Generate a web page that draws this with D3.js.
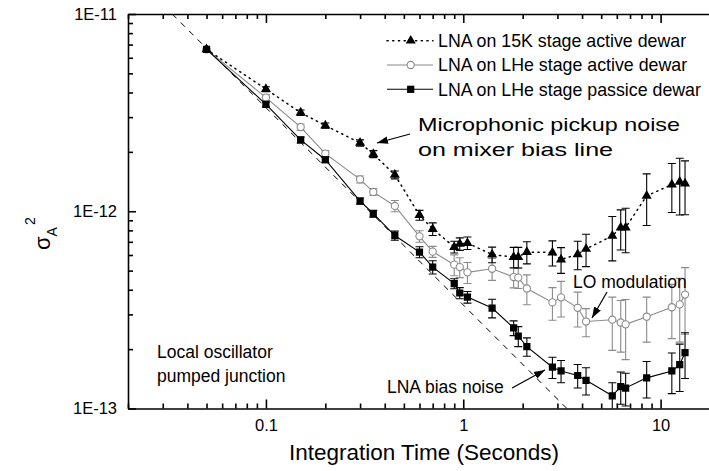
<!DOCTYPE html>
<html>
<head>
<meta charset="utf-8">
<script src="https://cdn.jsdelivr.net/npm/d3@7"></script>
<style>
  body { margin: 0; background: #fff; }
  svg { display: block; font-family: "Liberation Sans", Arial, sans-serif; }
  .axis path, .axis line { stroke: #000; stroke-width: 1.6; }
  .axis text { font-size: 16.5px; fill: #000; }
  .note { font-size: 17.5px; fill: #000; }
</style>
</head>
<body>
<svg width="709" height="471"></svg>
<script>
// integration times (s), shared by all three runs
const times = [0.05, 0.1, 0.15, 0.2, 0.3, 0.35, 0.45, 0.6, 0.7, 0.9, 0.96, 1.05, 1.4, 1.8, 1.9, 2.1, 2.83, 3.13, 3.8, 4.19, 5.69, 6.28, 6.65, 8.5, 11.4, 12.5, 13.3];

// Allan variance values, in units of 1E-12
const lna15K = [6.62, 4.16, 3.16, 2.72, 2.22, 1.95, 1.53, 0.955, 0.813, 0.659, 0.683, 0.690, 0.603, 0.586, 0.586, 0.621, 0.618, 0.569, 0.605, 0.644, 0.750, 0.826, 0.826, 1.197, 1.365, 1.408, 1.38];
const lna15KErr = [0, 0.12, 0.1, 0.08, 0.08, 0.08, 0.07, 0.055, 0.06, 0.045, 0.05, 0.05, 0.055, 0.07, 0.07, 0.08, 0.09, 0.085, 0.10, 0.12, 0.19, 0.19, 0.21, 0.35, 0.38, 0.45, 0.42];

const lheActive = [6.62, 3.77, 2.67, 1.96, 1.45, 1.253, 1.064, 0.746, 0.624, 0.536, 0.521, 0.490, 0.511, 0.464, 0.461, 0.406, 0.345, 0.366, 0.324, 0.276, 0.282, 0.273, 0.267, 0.292, 0.326, 0.337, 0.378];
const lheActiveErr = [0, 0.12, 0.1, 0.07, 0.06, 0.05, 0.07, 0.05, 0.04, 0.065, 0.06, 0.06, 0.065, 0.055, 0.055, 0.07, 0.065, 0.075, 0.065, 0.045, 0.085, 0.08, 0.09, 0.075, 0.1, 0.12, 0.14];

const lhePassive = [6.62, 3.48, 2.30, 1.824, 1.127, 0.972, 0.753, 0.621, 0.521, 0.430, 0.385, 0.367, 0.323, 0.256, 0.233, 0.206, 0.162, 0.155, 0.147, 0.139, 0.116, 0.129, 0.127, 0.143, 0.155, 0.167, 0.192];
const lhePassiveErr = [0, 0.1, 0.08, 0.06, 0.04, 0.04, 0.04, 0.04, 0.04, 0.025, 0.025, 0.025, 0.035, 0.022, 0.027, 0.022, 0.02, 0.02, 0.02, 0.022, 0.019, 0.024, 0.024, 0.03, 0.036, 0.045, 0.05];

const legendLabels = ["LNA on 15K stage active dewar", "LNA on LHe stage active dewar", "LNA on LHe stage passice dewar"];
const xTickLabels = ["0.1", "1", "10"];
const yTickLabels = ["1E-13", "1E-12", "1E-11"];

// white-noise reference line sigma^2 = C / tau
const whiteNoiseC = 3.35e-13;

const unit = 1e-12;
const plotLeft = 128, plotTop = 14, plotRight = 720, plotBottom = 408.5;

const svg = d3.select("svg");
const x = d3.scaleLog().domain([0.02, 20]).range([plotLeft, plotRight]);
const y = d3.scaleLog().domain([1e-13, 1e-11]).range([plotBottom, plotTop]);

const defs = svg.append("defs");
defs.append("clipPath").attr("id", "plotClip")
  .append("rect").attr("x", plotLeft).attr("y", plotTop)
  .attr("width", plotRight - plotLeft).attr("height", plotBottom - plotTop);

const marker = defs.append("marker")
  .attr("id", "arrow").attr("viewBox", "0 0 10 10").attr("refX", 10).attr("refY", 5)
  .attr("markerWidth", 11).attr("markerHeight", 11).attr("markerUnits", "userSpaceOnUse")
  .attr("orient", "auto");
marker.append("path").attr("d", "M0,1.5L10,5L0,8.5Z").attr("fill", "#000");

// ticks: majors at the decades, minors in between
const xMajor = [0.1, 1, 10];
const xMinor = x.ticks().filter(v => !xMajor.some(m => Math.abs(m - v) / m < 1e-9));
const yMajor = [1e-13, 1e-12, 1e-11];
const yMinor = y.ticks().filter(v => !yMajor.some(m => Math.abs(m - v) / m < 1e-9));

const xAxisG = svg.append("g").attr("class", "axis").attr("transform", `translate(0,${plotBottom})`);
xAxisG.call(d3.axisBottom(x).tickValues(xMajor).tickSizeInner(-9).tickSizeOuter(0).tickPadding(11)
  .tickFormat((d, i) => xTickLabels[i]));
xAxisG.append("g").call(d3.axisBottom(x).tickValues(xMinor).tickSizeInner(-5).tickSizeOuter(0).tickFormat(""))
  .select(".domain").remove();

const topAxisG = svg.append("g").attr("class", "axis").attr("transform", `translate(0,${plotTop})`);
topAxisG.call(d3.axisTop(x).tickValues(xMajor).tickSizeInner(-9).tickSizeOuter(0).tickFormat(""));
topAxisG.append("g").call(d3.axisTop(x).tickValues(xMinor).tickSizeInner(-5).tickSizeOuter(0).tickFormat(""))
  .select(".domain").remove();

const yAxisG = svg.append("g").attr("class", "axis").attr("transform", `translate(${plotLeft},0)`);
yAxisG.call(d3.axisLeft(y).tickValues(yMajor).tickSizeInner(-8).tickSizeOuter(0).tickPadding(11)
  .tickFormat((d, i) => yTickLabels[i]));
yAxisG.append("g").call(d3.axisLeft(y).tickValues(yMinor).tickSizeInner(-5).tickSizeOuter(0).tickFormat(""))
  .select(".domain").remove();

// axis titles
svg.append("text").attr("class", "note").style("font-size", "22.5px")
  .attr("x", (plotLeft + plotRight) / 2).attr("y", 460).attr("text-anchor", "middle")
  .text("Integration Time (Seconds)");

const yTitle = svg.append("text").attr("class", "note").style("font-size", "22px")
  .attr("transform", "translate(50,250) rotate(-90)");
yTitle.append("tspan").text("σ");
yTitle.append("tspan").attr("dy", 7).style("font-size", "14px").text("A");
yTitle.append("tspan").attr("dy", -22).attr("dx", 2).style("font-size", "14px").text("2");

const plot = svg.append("g").attr("clip-path", "url(#plotClip)");

// dashed 1/tau line
const tauLine = [whiteNoiseC / 1e-11, whiteNoiseC / 1e-13];
plot.append("path")
  .attr("d", d3.line().x(t => x(t)).y(t => y(whiteNoiseC / t))(tauLine))
  .attr("fill", "none").attr("stroke", "#000").attr("stroke-width", 1).attr("stroke-dasharray", "6,6");

const series = [
  { vals: lheActive, errs: lheActiveErr, color: "#8a8a8a", dash: null, kind: "circle" },
  { vals: lhePassive, errs: lhePassiveErr, color: "#000", dash: null, kind: "square" },
  { vals: lna15K, errs: lna15KErr, color: "#000", dash: "1.2,4.5", kind: "triangle" }
];

const drawMarker = (g, kind, color) => {
  if (kind === "circle") {
    g.append("circle").attr("r", 3.6).attr("fill", "#fff").attr("stroke", color).attr("stroke-width", 1.1);
  } else if (kind === "square") {
    g.append("path").attr("d", d3.symbol(d3.symbolSquare, 52)()).attr("fill", color);
  } else {
    g.append("path").attr("d", d3.symbol(d3.symbolTriangle, 44)()).attr("fill", color);
  }
};

series.forEach(s => {
  const pts = times.map((t, i) => ({ t, v: s.vals[i] * unit, e: s.errs[i] * unit }));
  const g = plot.append("g");

  g.append("path")
    .attr("d", d3.line().x(d => x(d.t)).y(d => y(d.v))(pts))
    .attr("fill", "none").attr("stroke", s.color).attr("stroke-width", s.dash ? 1.5 : 1.1)
    .attr("stroke-linecap", s.dash ? "round" : "butt")
    .attr("stroke-dasharray", s.dash);

  const bars = g.selectAll("g.err").data(pts.filter(d => d.e > 0)).enter().append("g")
    .attr("stroke", s.color).attr("stroke-width", 1.1);
  bars.append("line")
    .attr("x1", d => x(d.t)).attr("x2", d => x(d.t))
    .attr("y1", d => y(d.v + d.e)).attr("y2", d => y(Math.max(d.v - d.e, 1e-14)));
  bars.append("line")
    .attr("x1", d => x(d.t) - 4).attr("x2", d => x(d.t) + 4)
    .attr("y1", d => y(d.v + d.e)).attr("y2", d => y(d.v + d.e));
  bars.append("line")
    .attr("x1", d => x(d.t) - 4).attr("x2", d => x(d.t) + 4)
    .attr("y1", d => y(Math.max(d.v - d.e, 1e-14))).attr("y2", d => y(Math.max(d.v - d.e, 1e-14)));

  g.selectAll("g.pt").data(pts).enter().append("g")
    .attr("transform", d => `translate(${x(d.t)},${y(d.v)})`)
    .each(function () { drawMarker(d3.select(this), s.kind, s.color); });
});

// legend
const legendSeries = [series[2], series[0], series[1]];
legendSeries.forEach((s, i) => {
  const ly = 40.7 + i * 24.3;
  const lg = svg.append("g");
  lg.append("line").attr("x1", 387).attr("x2", 433).attr("y1", ly).attr("y2", ly)
    .attr("stroke", s.color).attr("stroke-width", s.dash ? 1.5 : 1.1)
    .attr("stroke-linecap", s.dash ? "round" : "butt").attr("stroke-dasharray", s.dash);
  drawMarker(lg.append("g").attr("transform", `translate(410.7,${ly})`), s.kind, s.color);
  lg.append("text").attr("class", "note").style("font-size", "17.8px")
    .attr("x", 438).attr("y", ly + 6.3).text(legendLabels[i]);
});

// annotations (widths: the original lettering is stretched sideways)
const notes = [
  { lines: ["Microphonic pickup noise", "on mixer bias line"], widths: [262, 195], x: 418, y: 131, size: 19, gap: 25, arrow: [410, 134, 377, 143] },
  { lines: ["LO modulation"], widths: [null], x: 573, y: 288, size: 17.5, gap: 24, arrow: [607, 292, 592, 318] },
  { lines: ["LNA bias noise"], widths: [null], x: 387, y: 393, size: 17.5, gap: 24, arrow: [512, 388, 545, 370] },
  { lines: ["Local oscillator", "pumped junction"], widths: [null, null], x: 157, y: 358, size: 17.5, gap: 24, arrow: null }
];
notes.forEach(n => {
  n.lines.forEach((txt, i) => {
    const t = svg.append("text").attr("class", "note").style("font-size", n.size + "px")
      .attr("x", n.x).attr("y", n.y + i * n.gap).text(txt);
    if (n.widths[i]) t.attr("textLength", n.widths[i]).attr("lengthAdjust", "spacingAndGlyphs");
  });
  if (n.arrow) {
    svg.append("line")
      .attr("x1", n.arrow[0]).attr("y1", n.arrow[1]).attr("x2", n.arrow[2]).attr("y2", n.arrow[3])
      .attr("stroke", "#000").attr("stroke-width", 1.2).attr("marker-end", "url(#arrow)");
  }
});
</script>
</body>
</html>
